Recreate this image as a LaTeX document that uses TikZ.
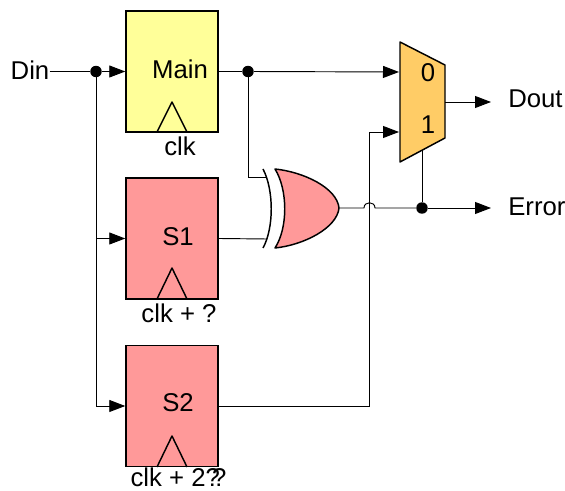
\documentclass[tikz,border=0pt]{standalone}
\usepackage{fontspec}
\setmainfont{Liberation Sans}
\usetikzlibrary{arrows.meta}
\definecolor{regyellow}{HTML}{FFFF99}
\definecolor{regpink}{HTML}{FF9999}
\definecolor{muxorange}{HTML}{FFCC66}
\tikzset{
  regbox/.style={draw, line width=1.1pt, minimum width=69pt, minimum height=91pt, inner sep=0pt},
  txt/.style={inner sep=0pt, font=\fontsize{19.3}{20}\selectfont},
  dot/.style={circle, fill=black, inner sep=0pt, minimum size=8.6pt},
  wire/.style={line width=0.7pt},
  arr/.style={wire, -{Triangle[length=12pt,width=9pt]}},
  shapeline/.style={line width=1.1pt, line join=round}
}
\begin{document}
\begin{tikzpicture}[x=0.75pt,y=-0.75pt]
  \useasboundingbox (0,0) rectangle (565,491);
  % registers
  \node[regbox, fill=regyellow] (main) at (172,71.5) {};
  \node[regbox, fill=regpink] (s1) at (172,238.5) {};
  \node[regbox, fill=regpink] (s2) at (172,406) {};
  \draw[shapeline] (157,132) -- (172,102) -- (187,132);
  \draw[shapeline] (157,299) -- (172,268) -- (187,299);
  \draw[shapeline] (157,467) -- (172,436) -- (187,467);
  \node[txt] (mainlabel) at (180,69) {Main};
  \node[txt] (s1label) at (178,237) {S1};
  \node[txt] (s2label) at (178,403) {S2};
  \node[txt] (clkmain) at (180,146) {clk};
  \node[txt] (clks1) at (179,313) {clk + ?};
  \node[txt] (clks2) at (178.5,477.5) {clk + 2?\kern-0.3em?};
  % mux
  \draw[shapeline, fill=muxorange] (400,42) -- (445,65) -- (445,138) -- (400,162) -- cycle;
  \node[txt] (zero) at (428,73) {0};
  \node[txt] (one) at (428,125) {1};
  \coordinate (muxa) at (399,72);
  \coordinate (muxb) at (399,132);
  \coordinate (muxout) at (445,102);
  \coordinate (muxbot) at (422,150);
  % or gate
  \draw[shapeline, fill=regpink] (275,169) .. controls (304,172) and (337,188) .. (339,208)
    .. controls (337,228) and (304,245) .. (275,248) .. controls (288,228) and (288,190) .. (275,169) -- cycle;
  \draw[shapeline] (263,169) .. controls (274,190) and (274,228) .. (263,248);
  \coordinate (orout) at (339,208);
  \coordinate (ora) at (267,177);
  \coordinate (orb) at (267,239);
  % labels
  \node[txt] (din) at (30,70) {Din};
  \node[txt, anchor=west] (dout) at (508,99) {Dout};
  \node[txt, anchor=west] (error) at (508,207) {Error};
  \coordinate (doutend) at (491,102);
  \coordinate (errorend) at (491,208);
  % dots
  \node[dot] (dina) at (96,71.5) {};
  \node[dot] (maina) at (248,71.5) {};
  \node[dot] (erra) at (422,208) {};
  % wires
  \draw[wire] (dina -| din.east) -- (dina);
  \draw[arr] (dina) -- (main.west);
  \draw[arr] (dina) |- (s1.west);
  \draw[arr] (dina) |- (s2.west);
  \draw[wire] (main.east) -- (maina);
  \draw[arr] (maina) -- (muxa);
  \draw[wire] (maina) |- (ora);
  \draw[wire] (s1.east) -- (orb);
  \draw[arr] (s2.east) -| (369,132) -- (muxb);
  \draw[arr] (muxout) -- (doutend);
  \draw[wire] (muxbot) -- (erra);
  \draw[wire] (orout) -- (364,208) .. controls (364,201) and (375,201) .. (375,208) -- (erra);
  \draw[arr] (erra) -- (errorend);
\end{tikzpicture}
\end{document}
